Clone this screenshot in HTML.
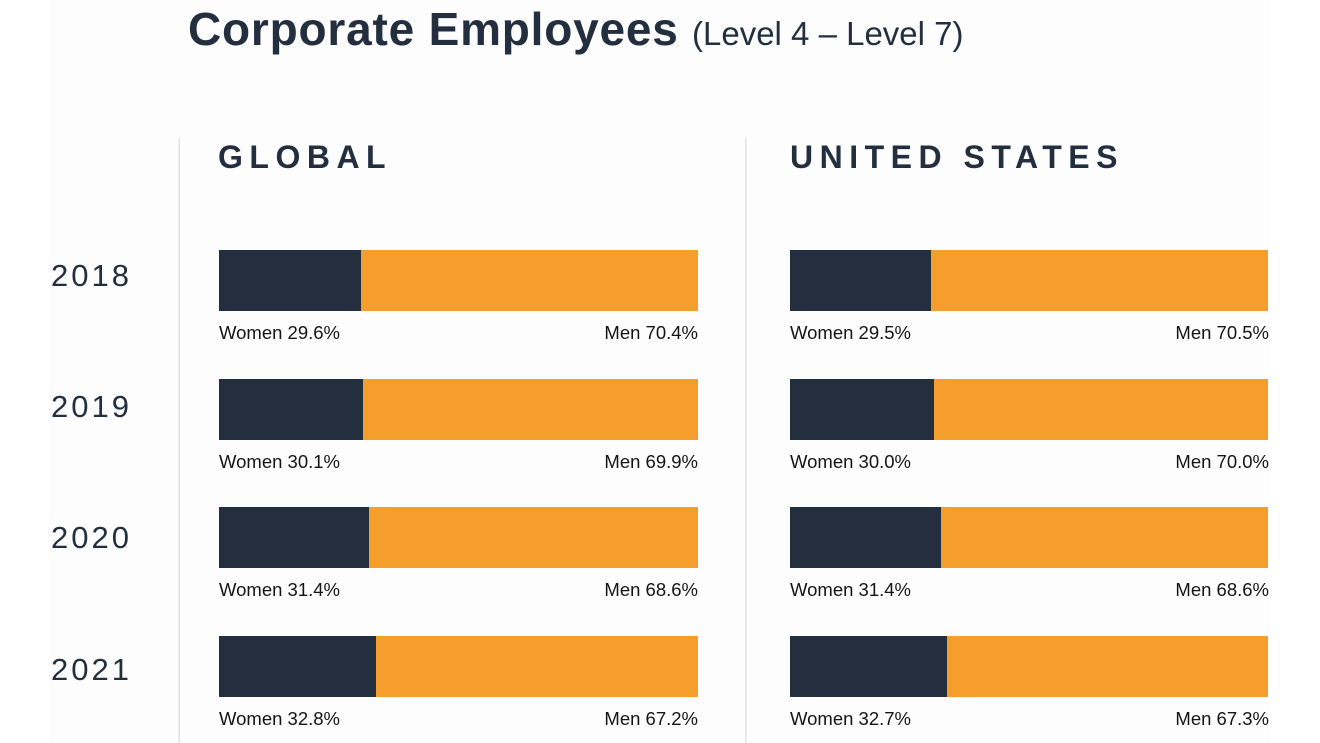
<!DOCTYPE html>
<html>
<head>
<meta charset="utf-8">
<style>
  html, body { margin: 0; padding: 0; background: #ffffff; }
  body { width: 1320px; height: 743px; overflow: hidden; }
  svg { display: block; }
  text { font-family: "Liberation Sans", "DejaVu Sans", sans-serif; fill: #232f3e; }
</style>
</head>
<body>
<svg width="1320" height="743" viewBox="0 0 1320 743" xmlns="http://www.w3.org/2000/svg">
  <rect x="0" y="0" width="1320" height="743" fill="#ffffff"/>
  <rect x="50" y="0" width="1219" height="743" fill="#fdfdfd"/>

  <!-- Title -->
  <text x="188" y="45" font-size="46" font-weight="bold" letter-spacing="0.8">Corporate Employees</text>
  <text x="692" y="45" font-size="33">(Level 4 – Level 7)</text>

  <!-- dividers -->
  <rect x="178.5" y="138" width="1.5" height="605" fill="#e2e2e2"/>
  <rect x="745" y="138" width="1.5" height="605" fill="#e2e2e2"/>

  <!-- section headers -->
  <text x="218" y="168" font-size="32" font-weight="bold" letter-spacing="6.5">GLOBAL</text>
  <text x="790" y="168" font-size="32" font-weight="bold" letter-spacing="6.5">UNITED STATES</text>

  <!-- year labels -->
  <g font-size="31" letter-spacing="3" fill="#1f2733">
    <text x="51" y="286">2018</text>
    <text x="51" y="417">2019</text>
    <text x="51" y="548">2020</text>
    <text x="51" y="680">2021</text>
  </g>

  <!-- Global bars -->
  <g>
    <rect x="219" y="250" width="479" height="61" fill="#f69e2b"/>
    <rect x="219" y="250" width="142" height="61" fill="#232e3e"/>
    <rect x="219" y="379" width="479" height="61" fill="#f69e2b"/>
    <rect x="219" y="379" width="144" height="61" fill="#232e3e"/>
    <rect x="219" y="507" width="479" height="61" fill="#f69e2b"/>
    <rect x="219" y="507" width="150" height="61" fill="#232e3e"/>
    <rect x="219" y="636" width="479" height="61" fill="#f69e2b"/>
    <rect x="219" y="636" width="157" height="61" fill="#232e3e"/>
  </g>

  <!-- US bars -->
  <g>
    <rect x="790" y="250" width="478" height="61" fill="#f69e2b"/>
    <rect x="790" y="250" width="141" height="61" fill="#232e3e"/>
    <rect x="790" y="379" width="478" height="61" fill="#f69e2b"/>
    <rect x="790" y="379" width="144" height="61" fill="#232e3e"/>
    <rect x="790" y="507" width="478" height="61" fill="#f69e2b"/>
    <rect x="790" y="507" width="151" height="61" fill="#232e3e"/>
    <rect x="790" y="636" width="478" height="61" fill="#f69e2b"/>
    <rect x="790" y="636" width="157" height="61" fill="#232e3e"/>
  </g>

  <!-- labels -->
  <g font-size="18.5" fill="#141414">
    <text x="219" y="339" style="fill:#141414">Women 29.6%</text>
    <text x="698" y="339" text-anchor="end" style="fill:#141414">Men 70.4%</text>
    <text x="219" y="468" style="fill:#141414">Women 30.1%</text>
    <text x="698" y="468" text-anchor="end" style="fill:#141414">Men 69.9%</text>
    <text x="219" y="596" style="fill:#141414">Women 31.4%</text>
    <text x="698" y="596" text-anchor="end" style="fill:#141414">Men 68.6%</text>
    <text x="219" y="725" style="fill:#141414">Women 32.8%</text>
    <text x="698" y="725" text-anchor="end" style="fill:#141414">Men 67.2%</text>

    <text x="790" y="339" style="fill:#141414">Women 29.5%</text>
    <text x="1269" y="339" text-anchor="end" style="fill:#141414">Men 70.5%</text>
    <text x="790" y="468" style="fill:#141414">Women 30.0%</text>
    <text x="1269" y="468" text-anchor="end" style="fill:#141414">Men 70.0%</text>
    <text x="790" y="596" style="fill:#141414">Women 31.4%</text>
    <text x="1269" y="596" text-anchor="end" style="fill:#141414">Men 68.6%</text>
    <text x="790" y="725" style="fill:#141414">Women 32.7%</text>
    <text x="1269" y="725" text-anchor="end" style="fill:#141414">Men 67.3%</text>
  </g>
</svg>
</body>
</html>
